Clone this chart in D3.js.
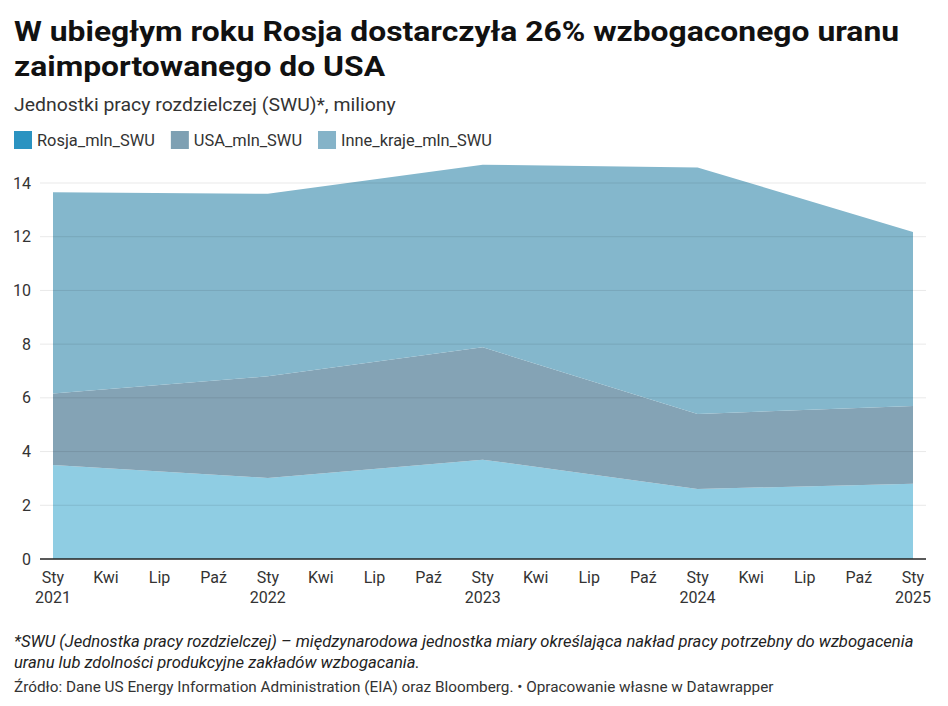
<!DOCTYPE html>
<html><head><meta charset="utf-8">
<script src="https://cdn.jsdelivr.net/npm/d3@7"></script>
<style>
body{margin:0;background:#fff;font-family:Roboto,"Noto Sans",sans-serif;}
svg text{font-family:Roboto,"Noto Sans",sans-serif;}
</style></head><body>
<svg id="c" width="948" height="706"></svg>
<script>
const years = ["2021-01-01","2022-01-01","2023-01-01","2024-01-01","2025-01-01"];
const rosja = [3.5, 3.02, 3.7, 2.61, 2.8];
const usa = [2.66, 3.78, 4.18, 2.79, 2.9];
const inne = [7.5, 6.8, 6.8, 9.18, 6.48];
const seriesNames = ["Rosja_mln_SWU","USA_mln_SWU","Inne_kraje_mln_SWU"];
const yTicks = [0,2,4,6,8,10,12,14];
const monthLabels = ["Sty","Kwi","Lip","Paź"];

const title1 = "W ubiegłym roku Rosja dostarczyła 26% wzbogaconego uranu";
const title2 = "zaimportowanego do USA";
const subtitle = "Jednostki pracy rozdzielczej (SWU)*, miliony";
const note1 = "*SWU (Jednostka pracy rozdzielczej) – międzynarodowa jednostka miary określająca nakład pracy potrzebny do wzbogacenia";
const note2 = "uranu lub zdolności produkcyjne zakładów wzbogacania.";
const source = "Źródło: Dane US Energy Information Administration (EIA) oraz Bloomberg. • Opracowanie własne w Datawrapper";

const areaFill = ["#8fcde3","#84a3b5","#84b7cc"];
const swatch = ["#2b93c1","#7ea0b3","#85b3c8"];

const svg = d3.select("#c");
const parse = d3.timeParse("%Y-%m-%d");
const data = years.map((d,i)=>({date:parse(d), Rosja_mln_SWU:rosja[i], USA_mln_SWU:usa[i], Inne_kraje_mln_SWU:inne[i]}));

const x = d3.scaleTime().domain([parse(years[0]), parse(years[years.length-1])]).range([53, 913]);
const y = d3.scaleLinear().domain([0,14]).range([559,183]);

// Titles (horizontally widened to match reference proportions)
const ts = 1.117;
const tg = svg.append("g").attr("transform",`scale(${ts},1)`);
tg.append("text").attr("x",14/ts).attr("y",41).attr("font-size",28.5).attr("font-weight",700).attr("fill","#111").text(title1);
tg.append("text").attr("x",14/ts).attr("y",76).attr("font-size",28.5).attr("font-weight",700).attr("fill","#111").text(title2);
const ss = 1.05;
svg.append("g").attr("transform",`scale(${ss},1)`)
  .append("text").attr("x",14/ss).attr("y",111).attr("font-size",18.5).attr("fill","#333").text(subtitle);

// Legend
const lg = svg.append("g");
let lx = 14;
seriesNames.forEach((n,i)=>{
  lg.append("rect").attr("x",lx).attr("y",131).attr("width",18).attr("height",18).attr("fill",swatch[i]);
  const t = lg.append("text").attr("x",lx+23).attr("y",146).attr("font-size",16.4).attr("fill","#333").text(n);
  lx += 23 + t.node().getComputedTextLength() + 16;
});

// Stack
const stack = d3.stack().keys(seriesNames);
const layers = stack(data);
const area = d3.area().x(d=>x(d.data.date)).y0(d=>y(d[0])).y1(d=>y(d[1]));
svg.append("g").selectAll("path").data(layers).join("path")
  .attr("d",area).attr("fill",(d,i)=>areaFill[i]);

// Grid lines
const grid = svg.append("g");
yTicks.filter(v=>v>0).forEach(v=>{
  grid.append("line").attr("x1",40).attr("x2",926).attr("y1",y(v)).attr("y2",y(v))
    .attr("stroke","rgba(0,0,0,0.09)").attr("stroke-width",1);
});
svg.append("line").attr("x1",40).attr("x2",926).attr("y1",y(0)).attr("y2",y(0)).attr("stroke","#222").attr("stroke-width",1.5);

// Y labels
yTicks.forEach(v=>{
  svg.append("text").attr("x",31).attr("y",y(v)+5.5).attr("text-anchor","end").attr("font-size",16).attr("fill","#333").text(v);
});

// X ticks
const xt = x.ticks(d3.timeMonth.every(3));
xt.forEach(d=>{
  const m = d.getMonth();
  const g = svg.append("g");
  g.append("text").attr("x",x(d)).attr("y",583).attr("text-anchor","middle").attr("font-size",16).attr("fill","#333").text(monthLabels[m/3]);
  if(m===0){
    g.append("text").attr("x",x(d)).attr("y",603).attr("text-anchor","middle").attr("font-size",16).attr("fill","#333").text(d.getFullYear());
  }
});

// Notes
svg.append("text").attr("x",14).attr("y",647).attr("font-size",16.6).attr("font-style","italic").attr("fill","#222").text(note1);
svg.append("text").attr("x",14).attr("y",668).attr("font-size",16.6).attr("font-style","italic").attr("fill","#222").text(note2);
svg.append("text").attr("x",14).attr("y",692).attr("font-size",15.3).attr("fill","#333").text(source);
</script>
</body></html>
